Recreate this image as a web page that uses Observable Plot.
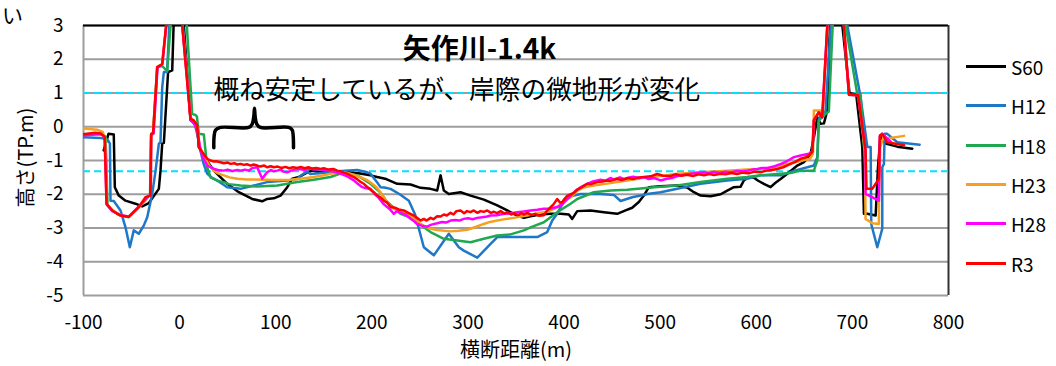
<!DOCTYPE html>
<html>
<head>
<meta charset="utf-8">
<script src="https://cdn.jsdelivr.net/npm/d3@7"></script>
<script src="https://cdn.jsdelivr.net/npm/@observablehq/plot@0.6"></script>
<style>
  body { margin: 0; background: #fff; font-family: "Noto Sans CJK JP", sans-serif; }
  #chart { position: relative; width: 1056px; height: 366px; }
  #legend { position: absolute; left: 966px; top: 47px; }
  .item { display: flex; align-items: center; height: 39.3px; font-size: 19px; color: #000; }
  .sw { width: 40px; height: 3px; margin-right: 5px; }
</style>
</head>
<body>
<div id="chart"><div id="legend"></div></div>
<script>
// Cross-section survey lines, [distance (m), elevation (TP.m)]
const seriesNames = ["S60", "H12", "H18", "H23", "H28", "R3"];
const seriesColors = ["#000000", "#1f77c8", "#1fa84f", "#f7a020", "#ff00ff", "#ff0000"];

const s60 = [
  [-79, -0.7], [-74, -0.21], [-68.5, -0.23], [-67.4, -1.79], [-63.3, -2.04], [-56.3, -2.19], [-45.9, -2.28],
  [-38.9, -2.36], [-32, -2.26], [-21.6, -1.84], [-19.9, -1.3], [-18.1, -0.5], [-16.4, -0.48], [-12, 1.62],
  [-7.7, 1.67], [-3, 6], [11.3, 0.2], [14.8, 0.12], [18.3, 0.0], [20, -0.6], [23.5, -0.78], [27, -0.95],
  [35.6, -1.3], [49.5, -1.69], [61.6, -1.94], [75.5, -2.14], [85.9, -2.21], [91.1, -2.14], [98, -2.12],
  [105, -2.04], [112, -1.79], [117.2, -1.54], [124.1, -1.49], [132.8, -1.35], [138, -1.3], [146.7, -1.35],
  [160, -1.33], [174.4, -1.35], [186, -1.38], [198.6, -1.44], [205.6, -1.49], [215, -1.55], [226.4, -1.69],
  [240.3, -1.71], [250.7, -1.81], [261.1, -1.84], [268, -1.89], [271.5, -1.44], [274.9, -1.89], [280.1, -1.99],
  [292.3, -1.94], [302.7, -2.04], [316.6, -2.16], [330.5, -2.33], [340.9, -2.48], [351.3, -2.63], [358.2, -2.7],
  [365, -2.65], [375, -2.6], [386, -2.58], [396.4, -2.58], [405, -2.6], [408.5, -2.73], [413.7, -2.5],
  [427.6, -2.48], [441.5, -2.53], [455.3, -2.58], [464, -2.48], [470.9, -2.4], [477.8, -2.23], [483, -2.04],
  [488.2, -1.79], [500, -1.76], [517.8, -1.74], [528, -1.8], [535.1, -1.94], [542.1, -2.04], [552.5, -2.06],
  [562.9, -2.0], [569.8, -1.89], [576.7, -1.79], [583.6, -1.78], [587.1, -1.59], [592.3, -1.49], [597.5, -1.51],
  [602, -1.6], [607.9, -1.69], [614.9, -1.79], [620, -1.66], [625.3, -1.55], [632.3, -1.39], [642.7, -1.15],
  [649.6, -1.05], [656.5, -0.8], [660, -0.31], [663.5, 0.28], [666.9, 0.09], [670.4, 0.1], [673.9, 0.48],
  [679.5, 5.7], [697, 1.0], [704, 0.95], [710.3, -0.6], [712, -2.58], [715.5, -2.58], [724.2, -2.63],
  [726.6, -1.2], [729.3, -0.26], [734.5, -0.5], [746.7, -0.59], [762.3, -0.65]
];

const h12 = [
  [-100, -0.31], [-82.3, -0.33], [-75, -0.38], [-72.5, -0.5], [-71.9, -2.19], [-68.5, -2.2], [-61.5, -2.48],
  [-56.3, -2.98], [-51.8, -3.57], [-47.7, -3.07], [-42.5, -3.17], [-37.3, -2.93], [-33.7, -2.68], [-28.5, -1.99],
  [-25, -1.3], [-21.6, -0.5], [-19.9, -0.47], [-18.1, 1.17], [-16.4, 1.62], [-13, 1.62], [-6, 6], [12, 0.2],
  [16, 0.05], [19, -0.3], [22, -0.75], [25, -1.1], [28.7, -1.39], [33, -1.5], [39.1, -1.59], [49.5, -1.79],
  [63.4, -1.84], [77.2, -1.74], [91.1, -1.64], [112, -1.59], [122, -1.55], [126, -1.45], [129.2, -1.39],
  [132.7, -1.33], [136, -1.4], [145, -1.38], [160, -1.33], [172, -1.3], [184.8, -1.28], [195.2, -1.35],
  [198.6, -1.39], [205.6, -1.65], [209, -1.79], [213, -1.8], [219.5, -1.84], [229, -2.0], [238.5, -2.19],
  [245, -2.6], [254.1, -3.57], [264.5, -3.81], [280.1, -3.17], [290.5, -3.57], [295.7, -3.67], [309.7, -3.88],
  [321.8, -3.52], [330.5, -3.27], [344.3, -3.27], [361.7, -3.27], [372.1, -3.27], [382.5, -3.12], [387.7, -2.78],
  [392.9, -2.58], [396.4, -2.38], [403.3, -2.09], [410.2, -2.04], [417.2, -1.99], [431, -1.99], [438, -1.99],
  [451.8, -2.02], [458.8, -2.2], [470.9, -2.09], [479.6, -2.04], [486.6, -1.99], [500.4, -1.94], [517.8, -1.84],
  [542, -1.69], [569.8, -1.59], [590.6, -1.54], [604.5, -1.44], [625.3, -1.44], [640, -1.3], [659.9, -1.15],
  [663.5, -0.9], [665, 0.2], [666.9, 0.33], [672, 0.45], [681.8, 5.0], [708.5, 0.88], [715.5, -0.6], [719, -0.6],
  [719.6, -2.88], [725.9, -3.57], [731.1, -3.02], [731.1, -1.2], [732.8, -1.1], [733.6, -0.21], [736.3, -0.21],
  [746.7, -0.46], [770, -0.53]
];

const h18 = [
  [-100, -0.22], [-82, -0.2], [-77, -0.3], [-75, -2.33], [-70.1, -2.48], [-61.5, -2.63], [-52.9, -2.68],
  [-42.4, -2.38], [-32, -2.04], [-30.8, -2.04], [-29.6, -0.21], [-27.6, -0.19], [-23.3, 1.77], [-18.1, 1.8],
  [-13, 1.65], [0, 6.5], [13.1, 0.38], [16.5, 0.35], [18, 0.3], [20, -0.21], [25.2, -0.23], [28.7, -1.2],
  [32.2, -1.5], [39.1, -1.6], [46, -1.64], [51.2, -1.7], [63.4, -1.74], [80.8, -1.77], [101.6, -1.74],
  [122.4, -1.64], [139.6, -1.57], [157, -1.49], [170.9, -1.35], [184.8, -1.44], [198.6, -1.69], [209, -1.95],
  [215, -2.2], [229.9, -2.58], [243.7, -2.73], [254.1, -2.98], [261.1, -3.12], [274.9, -3.32], [288.8, -3.37],
  [302.7, -3.42], [316.5, -3.32], [330.5, -3.22], [344.3, -3.19], [358.2, -3.07], [365.1, -2.98], [379, -2.83],
  [392.9, -2.53], [406.8, -2.28], [413.7, -2.14], [431, -1.94], [448.4, -1.89], [465.7, -1.87], [493.5, -1.79],
  [517.8, -1.74], [542, -1.64], [569.8, -1.54], [590.6, -1.49], [604.5, -1.44], [625.3, -1.39], [635.7, -1.37],
  [646.1, -1.3], [659.9, -1.3], [663.5, -1.0], [665.1, 0.19], [672.1, 0.38], [675.5, 0.45], [682.3, 4.79],
  [705, 0.98], [708.5, 0.95], [712, -0.6], [714, -0.6]
];

const h23 = [
  [-100, -0.05], [-85.7, -0.09], [-80, -0.15], [-77.5, -0.35], [-75.5, -2.3], [-70, -2.47], [-61.5, -2.62],
  [-52.9, -2.66], [-42.4, -2.38], [-36, -2.2], [-32, -2.04], [-30, -2.0], [-29.5, -0.22], [-27.5, -0.18],
  [-23.3, 1.77], [-18.1, 1.86], [-5, 5.5], [11.5, 0.25], [15, 0.15], [18.3, 0.0], [20.5, -0.55], [24, -0.8],
  [28, -1.0], [31, -1.15], [35.5, -1.3], [40, -1.38], [46, -1.44], [52, -1.5], [59.9, -1.54], [70, -1.56],
  [87.6, -1.57], [100, -1.58], [115.4, -1.57], [128, -1.53], [139.6, -1.49], [150, -1.44], [157, -1.39],
  [165, -1.36], [170.9, -1.35], [178, -1.4], [188.2, -1.49], [195, -1.58], [200.4, -1.69], [205, -1.8],
  [209.1, -1.95], [215, -2.2], [220, -2.38], [226.4, -2.48], [233, -2.55], [240.3, -2.63], [245, -2.75],
  [250.7, -2.88], [255, -2.95], [261.1, -3.02], [270, -3.07], [281.9, -3.1], [290, -3.08], [299.3, -3.05],
  [308, -2.97], [316.5, -2.88], [323, -2.82], [330.5, -2.78], [340, -2.73], [347.8, -2.7], [355, -2.66],
  [361.7, -2.63], [370, -2.58], [379, -2.53], [386, -2.48], [392.9, -2.38], [400, -2.22], [406.8, -2.09],
  [413.7, -1.9], [420, -1.8], [431, -1.74], [448.4, -1.67], [465.7, -1.59], [483, -1.51], [500.4, -1.46],
  [517.8, -1.39], [542, -1.35], [569.8, -1.3], [590, -1.27], [604.5, -1.25], [620, -1.2], [630, -1.12],
  [640, -1.05], [648, -1.0], [656, -0.95], [659, -0.8], [659.9, 0.48], [666.9, 0.48], [669, 0.3],
  [681.4, 6.85], [696.4, 0.95], [706, 0.93], [713, -0.7], [713.7, -2.73], [720.7, -2.86], [727.6, -2.88],
  [727.6, -2.23], [729, -0.6], [732.8, -0.26], [736.3, -0.35], [753.8, -0.27]
];

const h28 = [
  [-100, -0.25], [-82, -0.22], [-78, -0.3], [-76, -2.3], [-70, -2.5], [-61.5, -2.62], [-52.9, -2.66],
  [-42.4, -2.36], [-32, -2.05], [-30, -2.0], [-29.6, -0.25], [-27, -0.2], [-23, 1.75], [-18, 1.85], [-5, 5.5],
  [11.5, 0.2], [15, 0.1], [18.5, -0.1], [21.7, -0.7], [25, -0.95], [28.7, -1.15], [32.2, -1.2], [36, -1.25],
  [40, -1.28], [46, -1.3], [50, -1.27], [55, -1.31], [60, -1.28], [63.4, -1.3], [68, -1.27], [72, -1.3],
  [76, -1.22], [80.8, -1.2], [83, -1.35], [86, -1.54], [89, -1.42], [91.1, -1.35], [95, -1.28], [98, -1.32],
  [101.6, -1.3], [105, -1.27], [108, -1.33], [112, -1.35], [116, -1.3], [120, -1.27], [125, -1.25], [130, -1.28],
  [135, -1.24], [140, -1.27], [145, -1.25], [150, -1.28], [155, -1.3], [160, -1.33], [165, -1.37], [170, -1.42],
  [175, -1.48], [181.3, -1.59], [185, -1.68], [190, -1.79], [194, -1.82], [198.6, -1.84], [203, -2.0],
  [207, -2.1], [212, -2.28], [216, -2.38], [219, -2.45], [222.9, -2.58], [226, -2.5], [230, -2.55], [235, -2.6],
  [240, -2.72], [244, -2.8], [247.1, -2.88], [252, -2.93], [257.5, -2.96], [262, -2.9], [268, -2.86],
  [273, -2.82], [277, -2.84], [281.9, -2.78], [287, -2.76], [291, -2.78], [295.7, -2.73], [300, -2.71],
  [305, -2.74], [309.6, -2.7], [315, -2.68], [320, -2.66], [323.5, -2.63], [330, -2.62], [337.4, -2.58],
  [344, -2.57], [351.3, -2.53], [358, -2.51], [365.1, -2.48], [372, -2.46], [379, -2.43], [386, -2.42],
  [392.9, -2.38], [398, -2.3], [402, -2.18], [406.8, -2.05], [412, -1.9], [418, -1.78], [424.1, -1.69],
  [430, -1.62], [438, -1.57], [443, -1.6], [448, -1.52], [452, -1.56], [458, -1.5], [463, -1.55], [468, -1.5],
  [472, -1.48], [478, -1.52], [483, -1.49], [488, -1.55], [494, -1.52], [500.4, -1.59], [506, -1.55],
  [512, -1.52], [518, -1.46], [524, -1.42], [530, -1.4], [535, -1.38], [540, -1.36], [545.5, -1.35],
  [550, -1.38], [556, -1.34], [562, -1.36], [568, -1.33], [574, -1.35], [580, -1.31], [585, -1.32],
  [590.6, -1.3], [596, -1.27], [600.9, -1.25], [606, -1.22], [612, -1.22], [618, -1.18], [624, -1.12],
  [630, -1.05], [635, -0.97], [639.2, -0.9], [646.1, -0.85], [654.7, -0.8], [658.5, -0.72], [660, 0.2],
  [665.1, 0.43], [668.6, 0.28], [681.4, 6.85], [696.4, 0.95], [706, 0.93], [713.7, -0.7], [713.7, -1.99],
  [727.6, -2.19], [728.5, -0.3], [731, -0.21], [740, -0.45]
];

const r3 = [
  [-100, -0.22], [-88, -0.18], [-82, -0.2], [-78, -0.3], [-76, -2.28], [-70, -2.48], [-65, -2.58],
  [-61.5, -2.63], [-52.9, -2.67], [-42.4, -2.38], [-35.5, -2.09], [-30.5, -2.04], [-29.6, -0.21], [-27.6, -0.19],
  [-23.3, 1.77], [-18.1, 1.86], [-5, 5.5], [11.3, 0.24], [14.8, 0.19], [18.3, 0.04], [20, -0.6], [23.5, -0.75],
  [28.7, -0.95], [32.2, -1.0], [35.6, -1.03], [38, -1.02], [42.6, -1.05], [46, -1.08], [50, -1.06], [53, -1.1],
  [57, -1.08], [60, -1.12], [63.4, -1.1], [67, -1.13], [70, -1.11], [74, -1.15], [77, -1.12], [80.8, -1.15],
  [84, -1.18], [88, -1.15], [91, -1.2], [95, -1.17], [98, -1.2], [102, -1.18], [106, -1.22], [110, -1.19],
  [114, -1.23], [118, -1.2], [122.4, -1.22], [126, -1.19], [130, -1.23], [134, -1.2], [138, -1.24], [142, -1.22],
  [146.6, -1.25], [150, -1.23], [155, -1.27], [160, -1.25], [164, -1.3], [167.4, -1.32], [171, -1.36],
  [175, -1.4], [178, -1.45], [181.3, -1.49], [185, -1.56], [188, -1.63], [191.7, -1.69], [195, -1.78],
  [198, -1.85], [202.1, -1.94], [205, -2.02], [209.1, -2.1], [213, -2.2], [216, -2.25], [219.5, -2.38],
  [224, -2.4], [228, -2.45], [233.3, -2.48], [238, -2.55], [243.7, -2.63], [247, -2.7], [250.7, -2.78],
  [254.1, -2.73], [257, -2.78], [261.1, -2.7], [264, -2.74], [268, -2.65], [271.5, -2.66], [275, -2.6],
  [278, -2.63], [281.9, -2.55], [285, -2.6], [288, -2.5], [292.3, -2.48], [296, -2.56], [299, -2.5],
  [302.7, -2.53], [306, -2.48], [310, -2.55], [313, -2.5], [316.5, -2.52], [320, -2.48], [324, -2.55],
  [327, -2.52], [330.5, -2.56], [334, -2.5], [338, -2.57], [341, -2.53], [345, -2.6], [348, -2.56],
  [352, -2.62], [355, -2.56], [358.2, -2.6], [362, -2.55], [366, -2.62], [370, -2.58], [374, -2.64],
  [379, -2.62], [382, -2.5], [386, -2.38], [389, -2.3], [392.9, -2.14], [396, -2.25], [398.1, -2.23],
  [401, -2.12], [403.3, -2.05], [407, -2.0], [410.2, -1.96], [413.7, -1.86], [418, -1.8], [424.1, -1.69],
  [428, -1.7], [434.5, -1.64], [440, -1.62], [444.9, -1.59], [448.4, -1.6], [455, -1.55], [460, -1.58],
  [466, -1.52], [472, -1.55], [478, -1.5], [483, -1.49], [490, -1.47], [496.9, -1.4], [503, -1.45],
  [510.8, -1.46], [516, -1.41], [522, -1.45], [528, -1.42], [534, -1.46], [540, -1.41], [545.5, -1.44],
  [551, -1.4], [556, -1.43], [562.9, -1.39], [568, -1.41], [574, -1.37], [580, -1.4], [586, -1.36],
  [592, -1.38], [598, -1.33], [604.5, -1.35], [610, -1.3], [616, -1.28], [622, -1.25], [628, -1.2],
  [635.7, -1.1], [640, -1.05], [646.1, -0.95], [650, -0.92], [654.7, -0.85], [658.2, -0.75], [659.9, 0.19],
  [665.1, 0.43], [668.6, 0.28], [681.4, 6.85], [696.4, 0.95], [706, 0.93], [713.7, -0.7], [714.7, -1.84],
  [720.7, -1.84], [727.6, -1.54], [728.6, -0.26], [731.1, -0.21], [736.3, -0.46], [753.8, -0.55]
];

// Axis ticks and reference water levels
const xTicks = [-100, 0, 100, 200, 300, 400, 500, 600, 700, 800];
const yTicks = [-5, -4, -3, -2, -1, 0, 1, 2, 3];
const waterLevels = [1, -1.32];

// Brace under the annotation, in chart units
const brace = [
  [35.6, -0.62], [35.9, -0.28], [37.4, -0.1], [42.6, -0.02], [72, -0.02], [75.5, 0.08], [77.2, 0.3],
  [77.9, 0.55], [78.6, 0.3], [80.3, 0.08], [84, -0.02], [113.6, -0.02], [117.2, -0.1], [118.2, -0.28],
  [118.5, -0.62]
];

const allSeries = [s60, h12, h18, h23, h28, r3];
const rows = allSeries.flatMap((pts, i) => pts.map(([x, y]) => ({x, y, series: seriesNames[i]})));

const fmt = d => (d < 0 ? "-" + Math.abs(d) : String(d));

const chart = Plot.plot({
  width: 1056,
  height: 366,
  marginLeft: 83,
  marginRight: 108,
  marginTop: 25,
  marginBottom: 71,
  style: {fontFamily: "'Noto Sans CJK JP', sans-serif", fontSize: "19px", background: "#fff", overflow: "visible", color: "#000"},
  x: {domain: [-100, 800], label: null},
  y: {domain: [-5, 3], label: null},
  color: {domain: seriesNames, range: seriesColors},
  marks: [
    Plot.ruleY(yTicks, {stroke: "#9d9d9d", strokeWidth: 2}),
    Plot.ruleX([-100], {stroke: "#9d9d9d", strokeWidth: 2}),
    Plot.ruleY([3], {stroke: "#000", strokeWidth: 2}),
    Plot.ruleX([800], {stroke: "#333", strokeWidth: 2}),
    Plot.ruleY(waterLevels, {stroke: "#00e0ff", strokeWidth: 2, strokeDasharray: "7,4"}),
    Plot.line(rows, {x: "x", y: "y", z: "series", stroke: "series", strokeWidth: 2.5, clip: true, strokeLinejoin: "round"}),
    Plot.line(brace, {x: d => d[0], y: d => d[1], curve: "catmull-rom", stroke: "#000", strokeWidth: 3.5}),
    Plot.axisX(xTicks, {tickSize: 0, tickPadding: 20, tickFormat: fmt, fontSize: 19, label: null}),
    Plot.axisY(yTicks, {tickSize: 0, tickPadding: 20, tickFormat: fmt, fontSize: 19, label: null}),
    Plot.text(["横断距離(m)"], {frameAnchor: "bottom", dy: 55, fontSize: 20, textAnchor: "middle", lineAnchor: "middle"}),
    Plot.text(["高さ(TP.m)"], {frameAnchor: "left", dx: -57, dy: -3, rotate: -90, fontSize: 20, textAnchor: "middle", lineAnchor: "middle"}),
    Plot.text(["矢作川-1.4k"], {frameAnchor: "top-left", dx: 396, dy: 25, fontSize: 28, fontWeight: "bold", textAnchor: "middle", lineAnchor: "middle"}),
    Plot.text(["概ね安定しているが、岸際の微地形が変化"], {frameAnchor: "top-left", dx: 130, dy: 65, fontSize: 25.7, textAnchor: "start", lineAnchor: "middle"}),
    Plot.text(["い"], {frameAnchor: "top-left", dx: -71, dy: -9, fontSize: 21, textAnchor: "middle", lineAnchor: "middle"})
  ]
});

const host = document.getElementById("chart");
host.insertBefore(chart, host.firstChild);

// Legend to the right of the plot area
const legend = document.getElementById("legend");
seriesNames.forEach((name, i) => {
  const item = document.createElement("div");
  item.className = "item";
  const sw = document.createElement("span");
  sw.className = "sw";
  sw.style.background = seriesColors[i];
  const label = document.createElement("span");
  label.textContent = name;
  item.append(sw, label);
  legend.append(item);
});
</script>
</body>
</html>
